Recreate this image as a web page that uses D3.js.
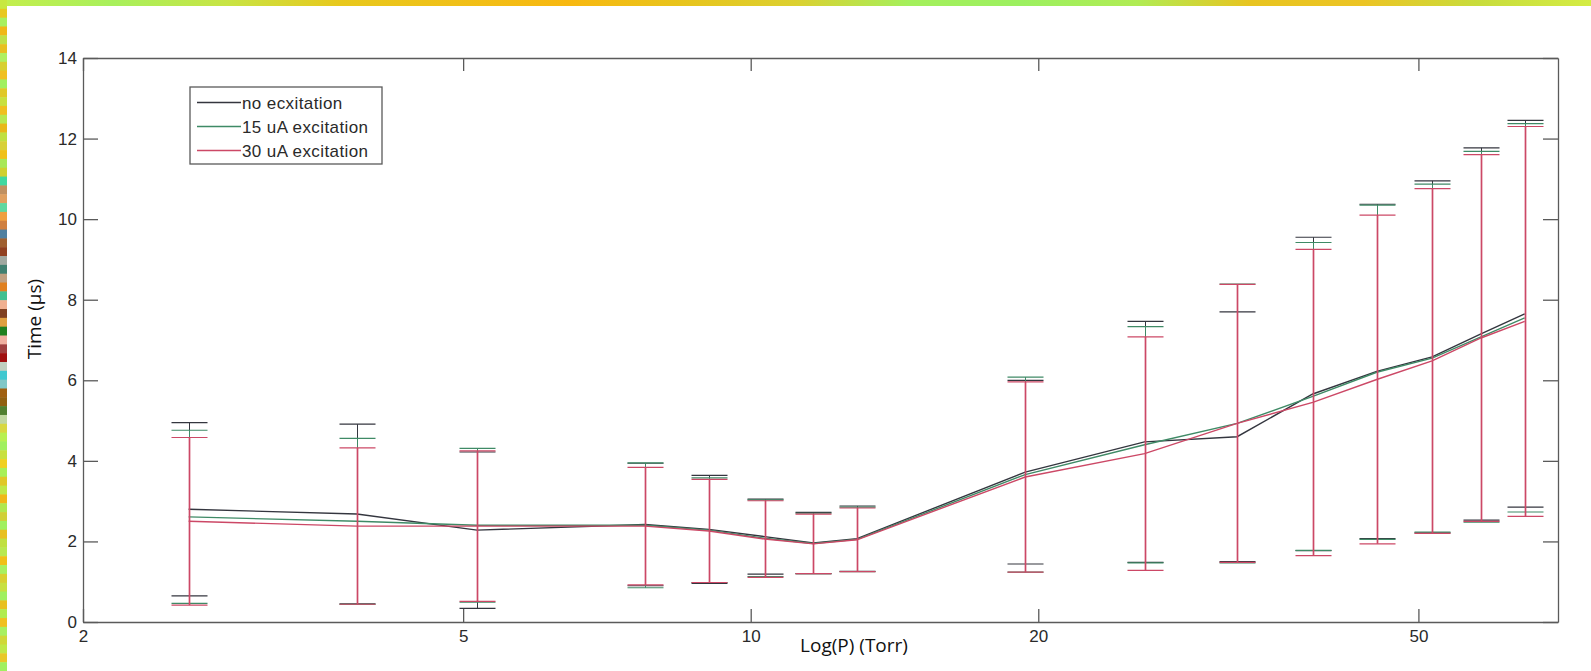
<!DOCTYPE html>
<html>
<head>
<meta charset="utf-8">
<script src="https://cdnjs.cloudflare.com/ajax/libs/d3/7.8.5/d3.min.js"></script>
<style>
html, body { margin: 0; padding: 0; background: #fff; }
svg { display: block; }
.axis text { font-family: "Liberation Sans", Arial, sans-serif; font-size: 17px; fill: #2a2a2a; }
.axis line, .axis path { stroke: #5a5a5a; stroke-width: 1.3; }
.legend text { font-family: "Liberation Sans", Arial, sans-serif; font-size: 17px; fill: #2a2a2a; letter-spacing: 0.4px; }
.label { font-family: "Open Sans", sans-serif; font-size: 19px; fill: #111; }
</style>
</head>
<body>
<svg id="chart" width="1591" height="671"></svg>
<script>
// pressure (Torr) of each measurement
const pressure = [2.58, 3.87, 5.17, 7.75, 9.04, 10.34, 11.63, 12.92, 19.38, 25.84, 32.3, 38.76, 45.22, 51.68, 58.14, 64.6];

// mean time (us) and error half-width for each excitation
const meanNone = [2.80, 2.68, 2.28, 2.42, 2.30, 2.12, 1.96, 2.07, 3.72, 4.47, 4.60, 5.66, 6.22, 6.58, 7.15, 7.65];
const errNone  = [2.15, 2.23, 1.94, 1.52, 1.34, 0.93, 0.76, 0.81, 2.28, 2.99, 3.10, 3.89, 4.15, 4.37, 4.62, 4.80];
const meanLow  = [2.61, 2.50, 2.40, 2.40, 2.28, 2.08, 1.95, 2.05, 3.66, 4.40, 4.93, 5.60, 6.20, 6.55, 7.08, 7.55];
const errLow   = [2.15, 2.06, 1.91, 1.55, 1.30, 0.95, 0.75, 0.80, 2.42, 2.93, 3.46, 3.82, 4.15, 4.32, 4.60, 4.82];
const meanHigh = [2.50, 2.38, 2.38, 2.38, 2.26, 2.06, 1.94, 2.04, 3.60, 4.18, 4.93, 5.45, 6.02, 6.48, 7.05, 7.46];
const errHigh  = [2.08, 1.94, 1.87, 1.46, 1.28, 0.95, 0.74, 0.79, 2.36, 2.90, 3.45, 3.80, 4.08, 4.28, 4.55, 4.84];

const seriesNames = ["no ecxitation", "15 uA excitation", "30 uA excitation"];
const seriesColors = ["#34363f", "#3f8a66", "#cc4866"];

const xTicks = [2, 5, 10, 20, 50];
const yTicks = [0, 2, 4, 6, 8, 10, 12, 14];

// colours of the decorative frame strips
const topStripStops = ["#c4ee4c", "#a8f05c", "#c8e444", "#e8c81c", "#f0c018", "#f8b810", "#e8c41c", "#dcd030", "#a4f05c", "#9cf060", "#b0ec54", "#e8c420", "#ecc424", "#c8dc3c", "#d4ec44"];
const leftStripColors = ["#c8e840", "#e8c820", "#a8f060", "#f0b818", "#c0e048", "#e8c020", "#b0f060", "#d8d030",
  "#f0c020", "#a0f060", "#e0c828", "#c8e040", "#f0c020", "#b8e850", "#e8b818", "#c0e040", "#d8d038", "#f0c018",
  "#a8e858", "#d0d030", "#40d8a0", "#c09060", "#e0a060", "#60d8a0", "#f0a040", "#d08040", "#5080a0", "#a06030",
  "#904020", "#a0a8a0", "#408070", "#c0a080", "#e08020", "#40c090", "#f0b090", "#804020", "#e0a040", "#208020",
  "#f0b0a0", "#a04040", "#a01010", "#c0d0c0", "#40c8d0", "#80c8c8", "#a06010", "#906010", "#508030", "#c0d8a0",
  "#d8d840", "#b8f050", "#a0f060", "#c8e040", "#f0d020", "#a8f058", "#e0c828", "#c0e848", "#f0b818", "#b0e850",
  "#d0d038", "#a0f060", "#e8c020", "#c0e040", "#b8e850", "#f0c018", "#a8f060", "#d8d030", "#c8e040", "#a0f060",
  "#e8c020", "#b0ec50", "#f0c020", "#a8f060", "#d0d838", "#c0e848", "#e8c828", "#a0f060"];

const svg = d3.select("#chart");
const W = +svg.attr("width"), H = +svg.attr("height");
const margin = {top: 58, right: 33, bottom: 49, left: 83};
const w = W - margin.left - margin.right;
const h = H - margin.top - margin.bottom;

svg.append("rect").attr("width", W).attr("height", H).attr("fill", "#fff");

// decorative strips along the top and left edges
const grad = svg.append("defs").append("linearGradient").attr("id", "topGrad");
grad.selectAll("stop").data(topStripStops).enter().append("stop")
  .attr("offset", (d, i) => i / (topStripStops.length - 1))
  .attr("stop-color", d => d);
svg.append("rect").attr("x", 0).attr("y", 0).attr("width", W).attr("height", 6).attr("fill", "url(#topGrad)");

const stripScale = d3.scaleBand().domain(d3.range(leftStripColors.length)).range([0, H]);
svg.append("g").selectAll("rect").data(leftStripColors).enter().append("rect")
  .attr("x", 0).attr("y", (d, i) => stripScale(i))
  .attr("width", 7).attr("height", stripScale.bandwidth() + 0.5)
  .attr("fill", d => d);

const x = d3.scaleLog().domain([2, 70]).range([0, w]);
const y = d3.scaleLinear().domain([0, 14]).range([h, 0]);
// snap error bar stems to pixel centres so the last series drawn covers the others
const xs = p => Math.round(x(p)) + 0.5;

const g = svg.append("g").attr("transform", "translate(" + margin.left + "," + margin.top + ")");

// axes, ticks pointing inward (matlab style)
g.append("g").attr("class", "axis")
  .attr("transform", "translate(0," + h + ")")
  .call(d3.axisBottom(x).tickValues(xTicks).tickFormat(d3.format("d")).tickSize(-13).tickSizeOuter(0).tickPadding(8));
g.append("g").attr("class", "axis")
  .call(d3.axisTop(x).tickValues(xTicks).tickFormat("").tickSize(-13).tickSizeOuter(0));
g.append("g").attr("class", "axis")
  .call(d3.axisLeft(y).tickValues(yTicks).tickSize(-15).tickSizeOuter(0).tickPadding(6));
g.append("g").attr("class", "axis")
  .attr("transform", "translate(" + w + ",0)")
  .call(d3.axisRight(y).tickValues(yTicks).tickFormat("").tickSize(-15).tickSizeOuter(0));

// series with error bars
const series = [
  {mean: meanNone, err: errNone},
  {mean: meanLow, err: errLow},
  {mean: meanHigh, err: errHigh}
];
const capHalf = 18;

const lineGen = d3.line()
  .x(d => x(d.p))
  .y(d => y(d.m));

series.forEach(function(s, si){
  let pts = pressure.map((p, i) => ({p: p, m: s.mean[i], e: s.err[i]}));
  let sg = g.append("g").attr("stroke", seriesColors[si]).attr("fill", "none").attr("stroke-width", 1.2);
  // the last series' stems are wider so they hide the ones beneath
  let stemWidth = si === series.length - 1 ? 1.7 : 1;

  let bars = sg.selectAll("g.bar").data(pts).enter().append("g").attr("class", "bar");
  bars.append("line")
    .attr("x1", d => xs(d.p)).attr("x2", d => xs(d.p))
    .attr("y1", d => y(d.m - d.e)).attr("y2", d => y(d.m + d.e))
    .attr("stroke-width", stemWidth);
  bars.append("line")
    .attr("x1", d => xs(d.p) - capHalf).attr("x2", d => xs(d.p) + capHalf)
    .attr("y1", d => y(d.m + d.e)).attr("y2", d => y(d.m + d.e));
  bars.append("line")
    .attr("x1", d => xs(d.p) - capHalf).attr("x2", d => xs(d.p) + capHalf)
    .attr("y1", d => y(d.m - d.e)).attr("y2", d => y(d.m - d.e));

  sg.append("path").datum(pts).attr("d", lineGen).attr("stroke-width", 1.4);
});

// legend
const legend = g.append("g").attr("class", "legend").attr("transform", "translate(107,29)");
legend.append("rect").attr("width", 192).attr("height", 77)
  .attr("fill", "#fff").attr("stroke", "#5a5a5a").attr("stroke-width", 1.3);
const rows = legend.selectAll("g.row").data(seriesNames).enter().append("g")
  .attr("class", "row")
  .attr("transform", (d, i) => "translate(0," + (15.5 + i * 24) + ")");
rows.append("line").attr("x1", 7).attr("x2", 51)
  .attr("stroke", (d, i) => seriesColors[i]).attr("stroke-width", 1.3);
rows.append("text").attr("x", 52).attr("dy", "0.36em").text(d => d);

// axis titles
svg.append("text").attr("class", "label")
  .attr("text-anchor", "middle")
  .attr("transform", "translate(41,319) rotate(-90)")
  .text("Time (µs)");
svg.append("text").attr("class", "label")
  .attr("text-anchor", "middle")
  .attr("x", 854).attr("y", 652)
  .text("Log(P) (Torr)");
</script>
</body>
</html>
